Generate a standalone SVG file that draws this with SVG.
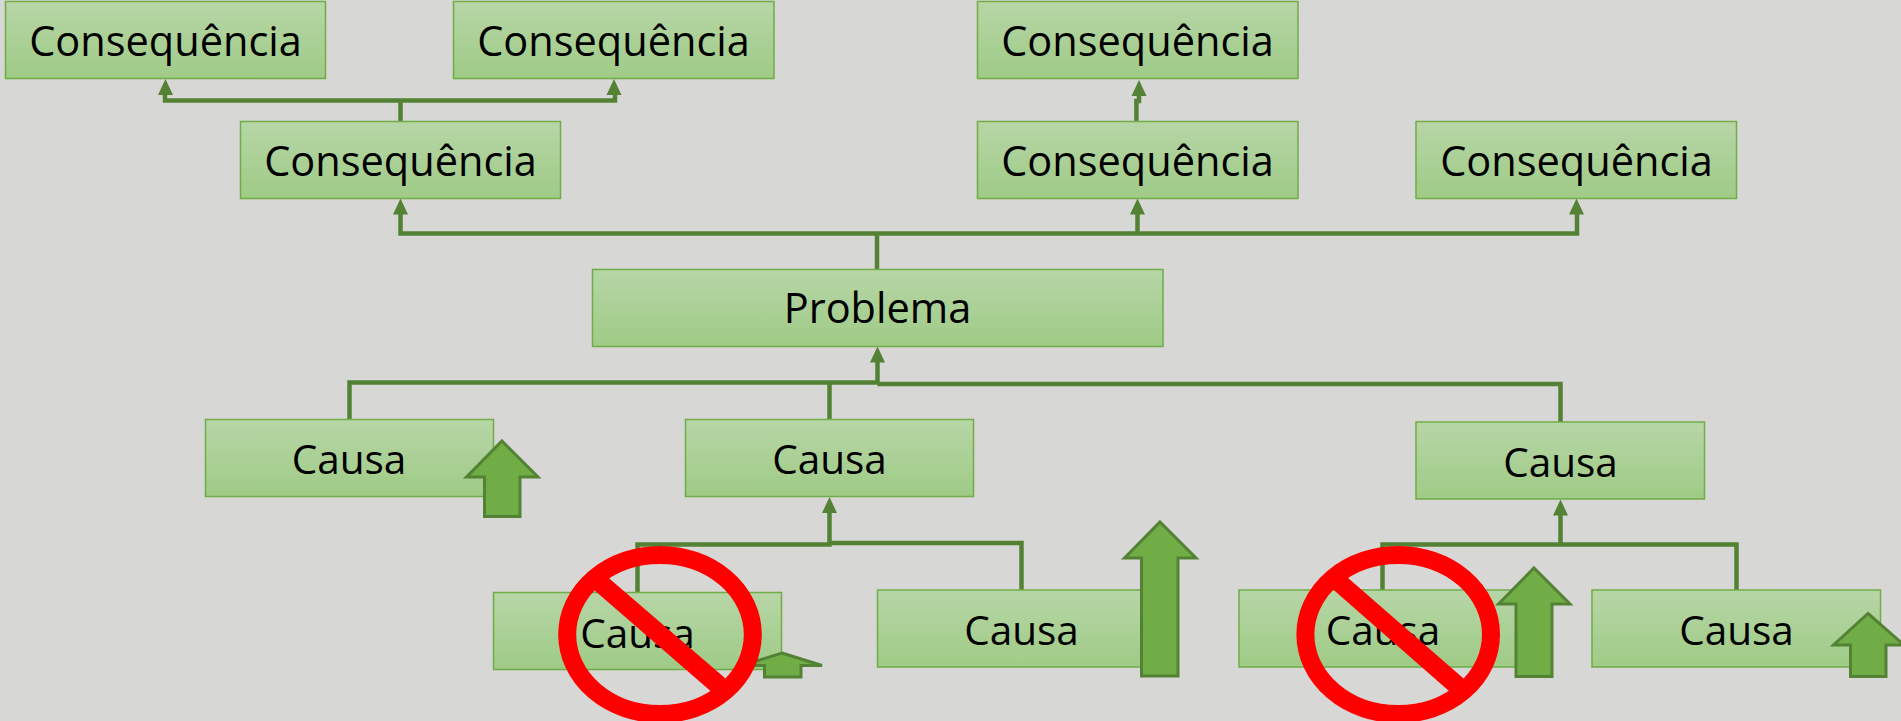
<svg xmlns="http://www.w3.org/2000/svg" width="1901" height="721" viewBox="0 0 1901 721">
<style>
.n{fill:url(#g);stroke:#70AD47;stroke-width:1.5}
.t{font-family:"Open Sans","Noto Sans","Liberation Sans",sans-serif;font-size:41.500px;fill:#000;text-anchor:middle}
.s{font-size:40.500px}
.c{fill:none;stroke:#548235;stroke-width:4.500}
.a{fill:#70AD47;stroke:#548235;stroke-width:3}
.h{fill:#548235;stroke:none}
.r{fill:none;stroke:#FF0000;stroke-width:18}
.b{fill:#FF0000;stroke:none}
</style>
<defs>
<linearGradient id="g" x1="0" y1="0" x2="0" y2="1"><stop offset="0" stop-color="#B7D6A7"/><stop offset="1" stop-color="#9FCB86"/></linearGradient>
</defs>
<rect width="1901" height="721" fill="#D7D7D5"/>
<g id="connectors">
<path class="c" d="M400.500 121V100.500M165 92V100.500H615V92"/>
<path class="h" d="M165.500 79l7.500 16h-15zM614 79l7.500 16h-15z"/>
<path class="c" d="M877 269V233.500M400.500 212V233.500H1577V212M1137.500 212V233.500"/>
<path class="h" d="M400.500 198.500l7.500 16h-15zM1137.500 198.500l7.500 16h-15zM1576.500 198.500l7.500 16h-15z"/>
<path class="c" d="M1136.400 122V101H1139V92"/>
<path class="h" d="M1139 80l7.500 16h-15z"/>
<path class="c" d="M349.500 420V382.500H877.500V360M829.500 420V382.500M877.500 384H1560.500V422"/>
<path class="h" d="M877.500 346.500l7.500 16h-15z"/>
<path class="c" d="M637.500 593V544.500H829.500V510M829.500 543H1021.500V590"/>
<path class="h" d="M829.500 497l7.500 16h-15z"/>
<path class="c" d="M1382.500 590V544.500H1736.500V590M1560.500 544.500V512"/>
<path class="h" d="M1560.500 499.500l7.500 16h-15z"/>
</g>
<g id="n1"><rect class="n" x="5.500" y="1.500" width="320" height="77"/><text class="t" x="165.500" y="56">Consequência</text></g>
<g id="n2"><rect class="n" x="453.500" y="1.500" width="320.500" height="77"/><text class="t" x="613.500" y="56">Consequência</text></g>
<g id="n3"><rect class="n" x="240.500" y="121.500" width="320" height="77"/><text class="t" x="400.500" y="176">Consequência</text></g>
<g id="n4"><rect class="n" x="977.500" y="1.500" width="320.500" height="77"/><text class="t" x="1137.500" y="56">Consequência</text></g>
<g id="n5"><rect class="n" x="977.500" y="121.500" width="320.500" height="77"/><text class="t" x="1137.500" y="176">Consequência</text></g>
<g id="n6"><rect class="n" x="1416" y="121.500" width="320.500" height="77"/><text class="t" x="1576.500" y="176">Consequência</text></g>
<g id="n7"><rect class="n" x="592.500" y="269.500" width="570.500" height="77"/><text class="t" x="877.500" y="323">Problema</text></g>
<g id="n8"><rect class="n" x="205.500" y="419.500" width="288" height="77"/><text class="t s" x="349" y="474">Causa</text></g>
<g id="n9"><rect class="n" x="685.500" y="419.500" width="288" height="77"/><text class="t s" x="829.500" y="474">Causa</text></g>
<g id="n10"><rect class="n" x="1416" y="422" width="288.500" height="77"/><text class="t s" x="1560.500" y="476.500">Causa</text></g>
<g id="n11"><rect class="n" x="493.500" y="592.500" width="288" height="77"/><text class="t s" x="637.500" y="647.500">Causa</text></g>
<g id="n12"><rect class="n" x="877.500" y="590" width="288" height="77"/><text class="t s" x="1021.500" y="645">Causa</text></g>
<g id="n13"><rect class="n" x="1239" y="590" width="288" height="77"/><text class="t s" x="1383" y="645">Causa</text></g>
<g id="n14"><rect class="n" x="1592" y="590" width="288.500" height="77"/><text class="t s" x="1736.500" y="645">Causa</text></g>
<g id="up1"><path class="a" d="M502 441L538 477H520V516.500H484.500V477H466.500z"/></g>
<g id="up2"><path class="a" d="M782 653L822 665.500H801V677H764.500V665.500H742z"/></g>
<g id="up3"><path class="a" d="M1160 522L1196 558H1178V676H1141.500V558H1124.500z"/></g>
<g id="up4"><path class="a" d="M1534 568L1570 604H1552V676.500H1516V604H1498.500z"/></g>
<g id="up5"><path class="a" d="M1868 613.500L1904 645H1886V676.500H1850.500V645H1833.500z"/></g>
<g id="no1"><path class="b" d="M602.600 572.800L731 683.200L716.600 696.200L588 584.800z"/><ellipse class="r" cx="660" cy="634.500" rx="92.800" ry="79.500"/></g>
<g id="no2"><path class="b" d="M1342 572.800L1469 683.200L1455 696.200L1327.700 584.800z"/><ellipse class="r" cx="1398.200" cy="634.500" rx="92.800" ry="79.500"/></g>
</svg>
